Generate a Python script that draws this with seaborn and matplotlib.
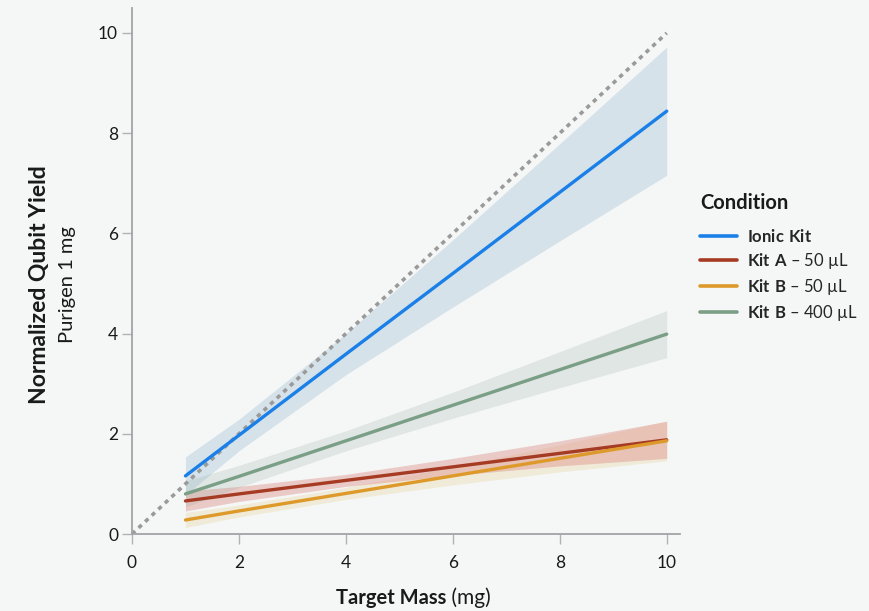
import numpy as np
import pandas as pd
import matplotlib.pyplot as plt
import seaborn as sns

# fitted lines and confidence bands
mass = [1, 2, 4, 6, 8, 10]

conditions = ["Ionic Kit", "Kit A – 50 µL", "Kit B – 50 µL", "Kit B – 400 µL"]

ionic_fit = [1.16, 1.97, 3.59, 5.20, 6.82, 8.44]
ionic_lo = [0.78, 1.66, 3.18, 4.53, 5.85, 7.16]
ionic_hi = [1.54, 2.29, 4.00, 5.87, 7.79, 9.72]

kitA50_fit = [0.66, 0.80, 1.07, 1.34, 1.61, 1.88]
kitA50_lo = [0.46, 0.65, 0.95, 1.17, 1.36, 1.51]
kitA50_hi = [0.86, 0.95, 1.19, 1.51, 1.86, 2.25]

kitB50_fit = [0.28, 0.46, 0.81, 1.16, 1.51, 1.86]
kitB50_lo = [0.13, 0.34, 0.69, 0.98, 1.24, 1.46]
kitB50_hi = [0.43, 0.58, 0.93, 1.34, 1.78, 2.26]

kitB400_fit = [0.80, 1.15, 1.86, 2.57, 3.28, 3.99]
kitB400_lo = [0.54, 0.93, 1.66, 2.31, 2.92, 3.52]
kitB400_hi = [1.06, 1.37, 2.06, 2.83, 3.64, 4.46]

colors = ["#1a80e8", "#a63b24", "#dd9a2a", "#7a9f86"]
band_colors = ["#7ea6c6", "#d9837c", "#e0b860", "#8fa69a"]
band_alpha = [0.26, 0.38, 0.2, 0.2]

fits = [ionic_fit, kitA50_fit, kitB50_fit, kitB400_fit]
lows = [ionic_lo, kitA50_lo, kitB50_lo, kitB400_lo]
highs = [ionic_hi, kitA50_hi, kitB50_hi, kitB400_hi]

df = pd.concat([
    pd.DataFrame({"mass": mass, "yield": f, "lo": lo, "hi": hi, "Condition": c})
    for c, f, lo, hi in zip(conditions, fits, lows, highs)
])

sns.set_theme(style="ticks")
bg = "#f5f7f6"
plt.rcParams["font.family"] = ["Lato", "DejaVu Sans"]
plt.rcParams["mathtext.fontset"] = "custom"
plt.rcParams["mathtext.rm"] = "Lato"
plt.rcParams["mathtext.bf"] = "Lato:bold"

fig = plt.figure(figsize=(8.7, 6.11), dpi=100, facecolor=bg)
ax = fig.add_axes([0.1517, 0.126, 0.63, 0.861])
ax.set_facecolor(bg)

# confidence bands (orange under red, as in the original)
for i in [0, 2, 1, 3]:
    sub = df[df["Condition"] == conditions[i]]
    ax.fill_between(sub["mass"], sub["lo"], sub["hi"], color=band_colors[i],
                    alpha=band_alpha[i], linewidth=0, zorder=1)

# identity line
ax.plot([0, 10], [0, 10], color="#9a9a9a", lw=2.6, ls=(0, (1.2, 1.3)), zorder=2)

sns.lineplot(data=df, x="mass", y="yield", hue="Condition",
             palette=dict(zip(conditions, colors)), lw=2.4, ax=ax,
             legend=False, zorder=3)

ax.set_xlim(0, 10.25)
ax.set_ylim(0, 10.5)
ax.set_xticks([0, 2, 4, 6, 8, 10])
ax.set_yticks([0, 2, 4, 6, 8, 10])
ax.tick_params(length=7, width=1, color="#b0b3b6", labelsize=12.5,
               labelcolor="#1a1a1a")
ax.tick_params(axis="x", pad=8)
ax.tick_params(axis="y", pad=3)
for s in ["top", "right"]:
    ax.spines[s].set_visible(False)
for s in ["left", "bottom"]:
    ax.spines[s].set_color("#a0a4a8")
    ax.spines[s].set_linewidth(1.3)
ax.set_xlabel("")
ax.set_ylabel("")

# axis titles
fig.text(40 / 870, 1 - 285 / 611, "Normalized Qubit Yield", rotation=90,
         ha="center", va="center", fontsize=16.5, fontweight="bold",
         color="#1a1a1a")
fig.text(68 / 870, 1 - 285 / 611, "Purigen 1 mg", rotation=90,
         ha="center", va="center", fontsize=14.5, color="#1a1a1a")
t1 = fig.text(336 / 870, 1 - 598 / 611, "Target Mass", ha="left", va="center",
              fontsize=14.5, fontweight="bold", color="#1a1a1a")
ax.annotate(" (mg)", xy=(1, 0.5), xycoords=t1, ha="left", va="center",
            fontsize=15, color="#1a1a1a")

# legend
fig.text(700 / 870, 1 - 203 / 611, "Condition", ha="left", va="center",
         fontsize=14.5, fontweight="bold", color="#1a1a1a")
labels = [r"$\bf{Ionic\ Kit}$", r"$\bf{Kit\ A}$ – 50 µL",
          r"$\bf{Kit\ B}$ – 50 µL", r"$\bf{Kit\ B}$ – 400 µL"]
handles = [plt.Line2D([], [], color=col, lw=2.6) for col in colors]
leg = fig.legend(handles, labels, loc="upper left",
                 bbox_to_anchor=(700 / 870, 1 - 228 / 611), frameon=False,
                 fontsize=12, handlelength=2.2, borderaxespad=0, borderpad=0,
                 labelspacing=0.36, handletextpad=0.65)

fig.savefig("out.png", dpi=100, facecolor=bg)
